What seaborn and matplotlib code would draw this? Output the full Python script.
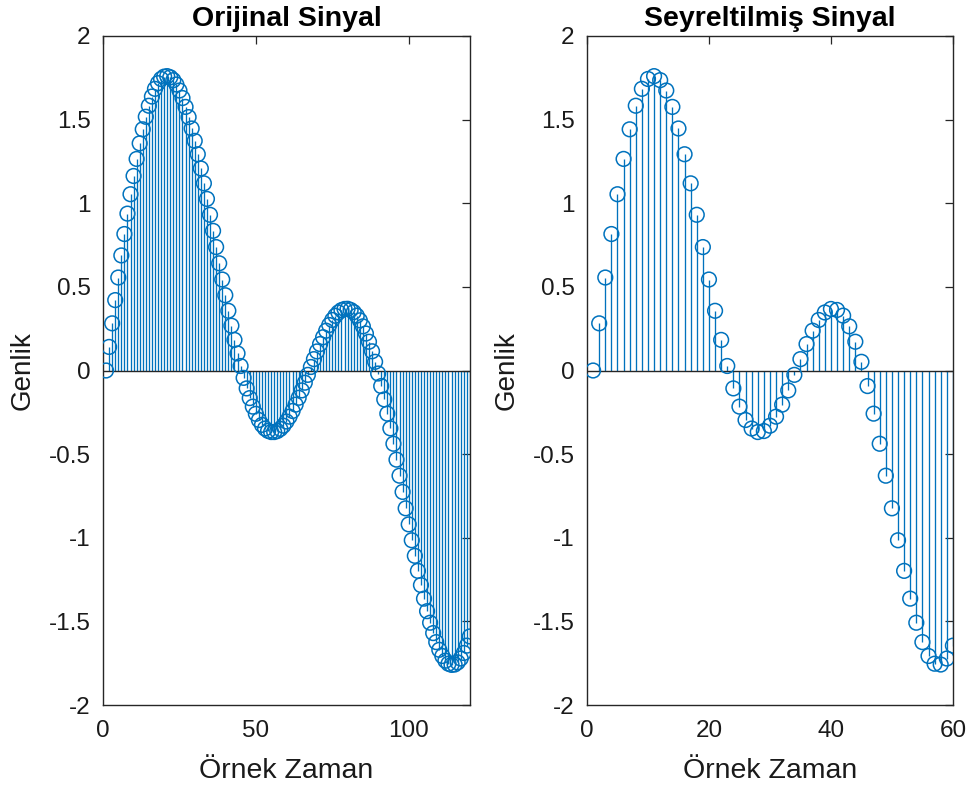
import numpy as np
import pandas as pd
import matplotlib
matplotlib.use("Agg")
import matplotlib.pyplot as plt
import seaborn as sns

# Original signal, one value per sample (samples 1..120)
orijinal = [
    0.000, 0.141, 0.282, 0.421, 0.556, 0.688, 0.816, 0.938, 1.054, 1.163,
    1.265, 1.358, 1.442, 1.517, 1.583, 1.638, 1.684, 1.718, 1.743, 1.757,
    1.760, 1.753, 1.736, 1.710, 1.674, 1.629, 1.576, 1.515, 1.447, 1.373,
    1.293, 1.208, 1.119, 1.026, 0.931, 0.835, 0.738, 0.641, 0.544, 0.450,
    0.357, 0.268, 0.183, 0.102, 0.027, -0.044, -0.107, -0.165, -0.216, -0.259,
    -0.296, -0.325, -0.347, -0.361, -0.368, -0.368, -0.362, -0.349, -0.330, -0.305,
    -0.276, -0.242, -0.204, -0.163, -0.119, -0.073, -0.026, 0.021, 0.068, 0.114,
    0.158, 0.199, 0.238, 0.272, 0.302, 0.327, 0.347, 0.361, 0.368, 0.369,
    0.362, 0.349, 0.328, 0.300, 0.264, 0.221, 0.172, 0.115, 0.052, -0.018,
    -0.093, -0.173, -0.258, -0.346, -0.438, -0.533, -0.629, -0.726, -0.824, -0.920,
    -1.015, -1.108, -1.198, -1.283, -1.364, -1.439, -1.508, -1.570, -1.624, -1.670,
    -1.707, -1.735, -1.753, -1.760, -1.758, -1.745, -1.722, -1.689, -1.645, -1.590,
]

# Decimated signal (every second sample kept), samples 1..60
seyreltilmis = [
    0.000, 0.282, 0.556, 0.816, 1.054, 1.265, 1.442, 1.583, 1.684, 1.743,
    1.760, 1.736, 1.674, 1.576, 1.447, 1.293, 1.119, 0.931, 0.738, 0.544,
    0.357, 0.183, 0.027, -0.107, -0.216, -0.296, -0.347, -0.368, -0.362, -0.330,
    -0.276, -0.204, -0.119, -0.026, 0.068, 0.158, 0.238, 0.302, 0.347, 0.368,
    0.362, 0.328, 0.264, 0.172, 0.052, -0.093, -0.258, -0.438, -0.629, -0.824,
    -1.015, -1.198, -1.364, -1.508, -1.624, -1.707, -1.753, -1.758, -1.722, -1.645,
]

titles = ["Orijinal Sinyal", "Seyreltilmiş Sinyal"]
x_limits = [120, 60]
x_ticks = [[0, 50, 100], [0, 20, 40, 60]]
y_ticks = [-2, -1.5, -1, -0.5, 0, 0.5, 1, 1.5, 2]
x_label = "Örnek Zaman"
y_label = "Genlik"

sns.set_theme(style="white")
plt.rcParams["font.family"] = ["Liberation Sans", "DejaVu Sans"]
plt.rcParams["axes.unicode_minus"] = False

BLUE = "#0072BD"
DARK = "#262626"

fig = plt.figure(figsize=(9.68, 7.91), dpi=100)
ax_left = fig.add_axes([0.1064, 0.1087, 0.379, 0.8458])
ax_right = fig.add_axes([0.6064, 0.1087, 0.378, 0.8458])


def stem_panel(ax, values, title, xmax, xticks):
    df = pd.DataFrame({"n": np.arange(1, len(values) + 1), "genlik": values})
    ax.vlines(df["n"], 0, df["genlik"], color=BLUE, linewidth=0.95, zorder=2)
    ax.axhline(0, color=DARK, linewidth=1.0, zorder=2.5)
    sns.scatterplot(data=df, x="n", y="genlik", ax=ax, marker="o", s=112,
                    facecolor="none", edgecolor=BLUE, linewidth=1.1,
                    zorder=3, legend=False)
    ax.set_xlim(0, xmax)
    ax.set_ylim(-2, 2)
    ax.set_xticks(xticks)
    ax.set_yticks(y_ticks)
    ax.set_xticklabels([f"{v:g}" for v in xticks])
    ax.set_yticklabels([f"{v:g}" for v in y_ticks])
    ax.tick_params(direction="in", top=True, right=True, length=6, width=0.9,
                   color=DARK, labelsize=17.5, labelcolor="#1a1a1a")
    ax.tick_params(axis="x", pad=11)
    ax.tick_params(axis="y", pad=9)
    for side in ax.spines.values():
        side.set_visible(True)
        side.set_color(DARK)
        side.set_linewidth(1.0)
    ax.grid(False)
    ax.set_title(title, fontsize=20.5, fontweight="bold", pad=7, color="black")
    ax.set_xlabel(x_label, fontsize=20.5, color="#1a1a1a", labelpad=11)
    ax.set_ylabel(y_label, fontsize=20, color="#1a1a1a", labelpad=9)


stem_panel(ax_left, orijinal, titles[0], x_limits[0], x_ticks[0])
stem_panel(ax_right, seyreltilmis, titles[1], x_limits[1], x_ticks[1])

fig.savefig("out.png", dpi=100, facecolor="white")
